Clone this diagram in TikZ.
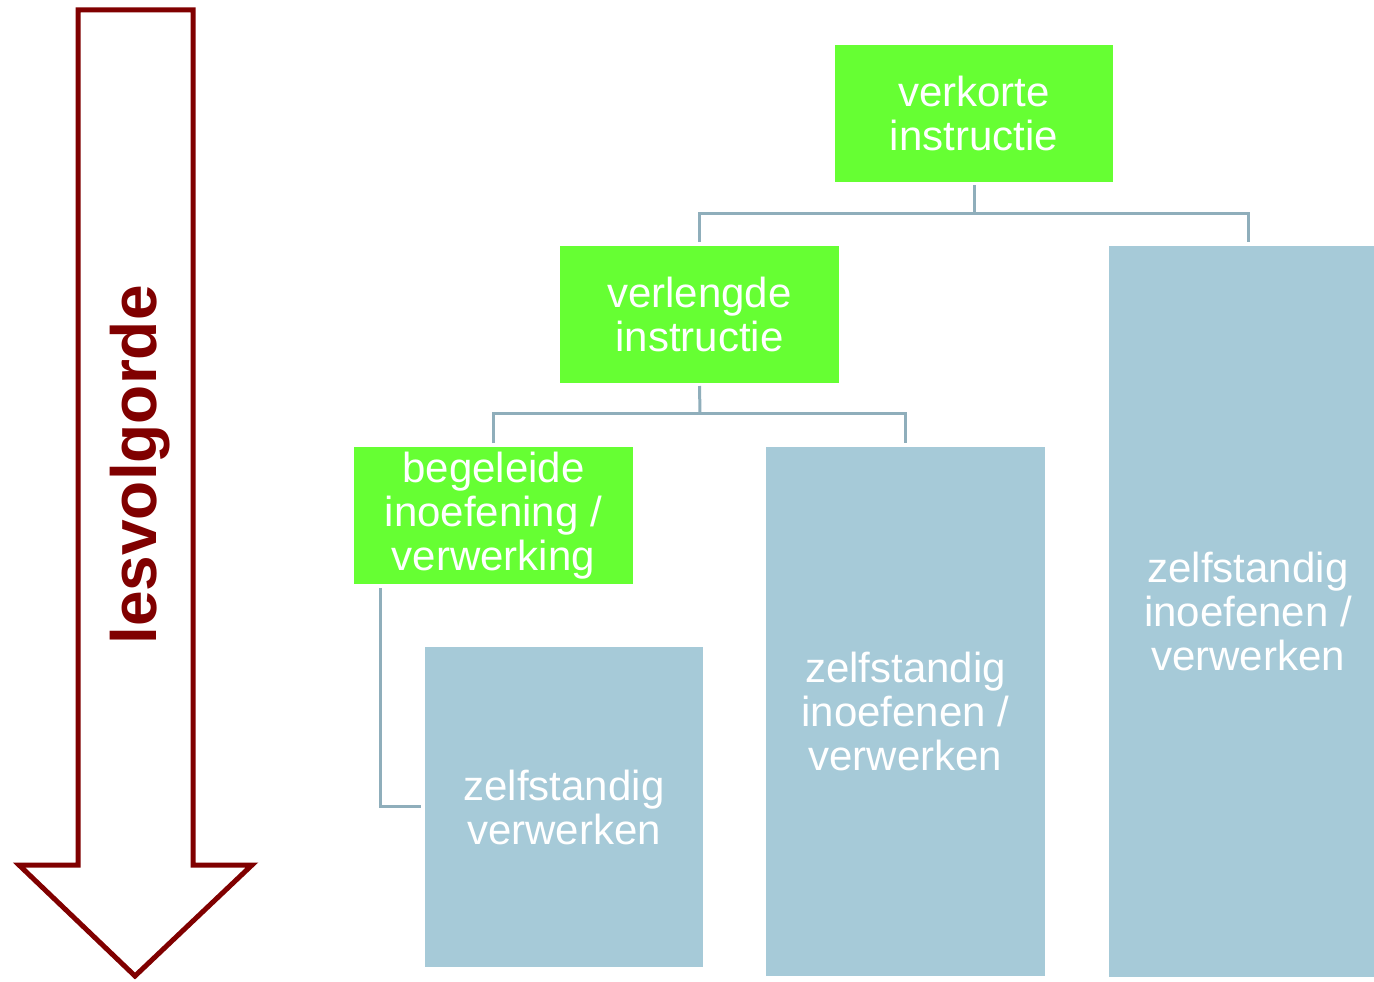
\documentclass[tikz,border=0pt]{standalone}
\usepackage{fontspec}
\setmainfont{Liberation Sans}
\definecolor{grn}{HTML}{66FF33}
\definecolor{blu}{HTML}{A6CAD8}
\definecolor{conn}{HTML}{8FAEBB}
\definecolor{arr}{HTML}{800000}
\begin{document}
\begin{tikzpicture}[x=1pt,y=-1pt,
  box/.style={inner sep=0pt, outer sep=0pt, text=white, align=center,
    font=\fontsize{42}{44}\selectfont, anchor=north west},
  gbox/.style={box, fill=grn},
  bbox/.style={box, fill=blu},
  link/.style={draw=conn, line width=3pt}]
\useasboundingbox (0,0) rectangle (1374,982);
\begin{scope}
\clip (0,0) rectangle (1374,982);
% arrow
\draw[arr, line width=5pt, line join=miter]
  (78,10) -- (193,10) -- (193,865) -- (252,865) -- (135,976) -- (19,865) -- (78,865) -- cycle;
\node[rotate=90, text=arr, font=\fontsize{64}{70}\selectfont\bfseries, inner sep=0pt] (lv) at (140,465) {lesvolgorde};
% boxes
\node[gbox, minimum width=278, minimum height=137] (vk) at (835,45) {verkorte\\instructie};
\node[gbox, minimum width=279, minimum height=137] (vl) at (560,246) {verlengde\\instructie};
\node[gbox, minimum width=279, minimum height=137] (bg) at (354,447) {begeleide\\inoefening /\\verwerking};
\node[bbox, minimum width=278, minimum height=320] (zv) at (425,647) {zelfstandig\\verwerken};
\node[bbox, minimum width=279, minimum height=529] (zm) at (766,447) {zelfstandig\\inoefenen /\\verwerken};
\node[bbox, minimum width=278, minimum height=731] (zr) at (1109,246) {zelfstandig\\inoefenen /\\verwerken};
% connectors
\coordinate (c1) at (974,213);
\draw[link] ([yshift=-3]vk.south) -- (c1);
\draw[link] ([yshift=4]vl.north) -- (vl.north |- c1) -- (zr.north |- c1) -- ([yshift=4]zr.north);
\coordinate (c2) at (700,413);
\draw[link] ([yshift=-3]vl.south) -- (c2);
\draw[link] ([yshift=4]bg.north) -- (bg.north |- c2) -- (zm.north |- c2) -- ([yshift=4]zm.north);
\coordinate (c3) at (380,806);
\draw[link] (c3 |- bg.south) ++(0,4) -- (c3) -- ([xshift=-4]zv.west |- c3);
\end{scope}
\end{tikzpicture}
\end{document}
